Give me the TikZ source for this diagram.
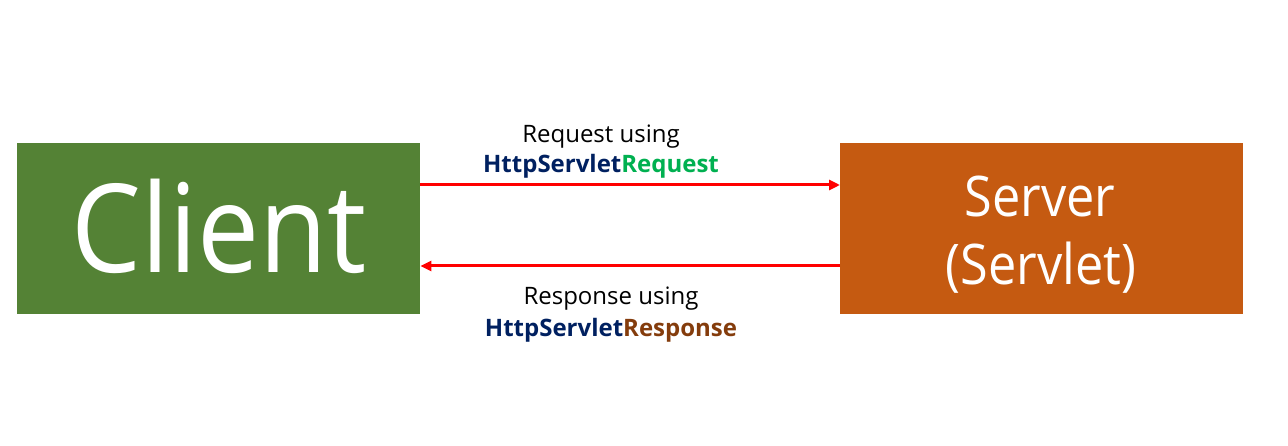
\documentclass[tikz,border=0pt]{standalone}
\usepackage{fontspec}
\setmainfont{Open Sans}
\newfontfamily\boxfont[FakeStretch=0.9]{Open Sans}
\usetikzlibrary{arrows.meta}
\definecolor{cgreen}{HTML}{548235}
\definecolor{corange}{HTML}{C55A11}
\definecolor{tblue}{HTML}{002060}
\definecolor{tgreen}{HTML}{00B050}
\definecolor{tbrown}{HTML}{843C0C}
\begin{document}
\begin{tikzpicture}[x=1pt,y=-1pt,
  box/.style={draw=none,inner sep=0pt,minimum width=403pt,minimum height=171pt,anchor=north west},
  bigtxt/.style={inner sep=0pt,anchor=base,text=white,font=\boxfont\fontsize{123}{123}\selectfont},
  midtxt/.style={inner sep=0pt,anchor=base,text=white,font=\boxfont\fontsize{56}{56}\selectfont},
  lbl/.style={inner sep=0pt,anchor=base,font=\fontsize{24}{24}\selectfont},
  blbl/.style={inner sep=0pt,anchor=base,font=\bfseries\fontsize{24}{24}\selectfont},
  msg/.style={draw=red,line width=3pt,-{Triangle[length=11pt,width=10pt]}}]
\useasboundingbox (0,0) rectangle (1288,446);
\node[box,fill=cgreen] (client) at (17,143) {};
\node[box,fill=corange] (server) at (840,143) {};
\node[bigtxt] (ct) at (219,273) {Client};
\node[midtxt] (st1) at (1040,217) {Server};
\node[midtxt] (st2) at (1041,285) {(Servlet)};
\coordinate (c1) at (client.east |- 0,185);
\coordinate (s1) at (server.west |- 0,185);
\coordinate (c2) at (client.east |- 0,266);
\coordinate (s2) at (server.west |- 0,266);
\draw[msg] (c1) -- (s1);
\draw[msg] (s2) -- (c2);
\node[lbl] (rq1) at (601,143) {Request using};
\node[blbl] (rq2) at (601,173) {\textcolor{tblue}{HttpServlet}\textcolor{tgreen}{Request}};
\node[lbl] (rs1) at (611,305) {Response using};
\node[blbl] (rs2) at (611,337) {\textcolor{tblue}{HttpServlet}\textcolor{tbrown}{Response}};
\end{tikzpicture}
\end{document}
